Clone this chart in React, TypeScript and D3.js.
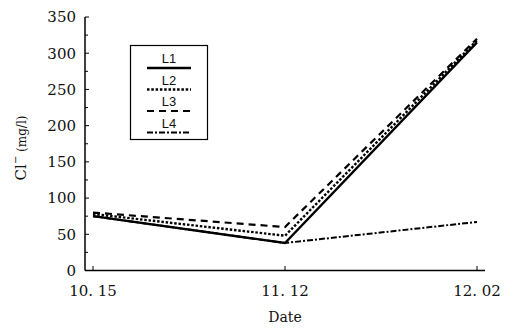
import React from "react";
import * as d3 from "d3";

const dates = ["10. 15", "11. 12", "12. 02"];
const L1 = [75, 38, 315];
const L2 = [78, 48, 318];
const L3 = [80, 60, 320];
const L4 = [75, 38, 67];
const yTicks = [0, 50, 100, 150, 200, 250, 300, 350];
const seriesNames = ["L1", "L2", "L3", "L4"];

const dashes: Record<string, string | undefined> = {
  L1: undefined,
  L2: "2.5,1.8",
  L3: "7,5",
  L4: "6,2,2,2",
};
const widths: Record<string, number> = { L1: 2.4, L2: 2.4, L3: 2.2, L4: 2 };

export default function App() {
  const W = 515, H = 329;
  const x = d3.scalePoint<string>().domain(dates).range([93, 477]);
  const y = d3.scaleLinear().domain([0, 350]).range([270.5, 17]);
  const line = d3
    .line<number>()
    .x((_, i) => x(dates[i]) as number)
    .y((d) => y(d));
  const all: Record<string, number[]> = { L1, L2, L3, L4 };
  const serif = "'DejaVu Serif', serif";
  const minor = d3.range(25, 350, 50);
  return (
    <svg width={W} height={H} style={{ position: "absolute", left: 0, top: 0, background: "#fff" }}>
      <rect width={W} height={H} fill="#fff" />
      {/* axes */}
      <line x1={85} y1={y(350)} x2={85} y2={270.5} stroke="#000" strokeWidth={1.5} />
      <line x1={85} y1={270.5} x2={485} y2={270.5} stroke="#000" strokeWidth={1.5} />
      {yTicks.map((t) => (
        <g key={t}>
          <line x1={85} x2={89} y1={y(t)} y2={y(t)} stroke="#000" strokeWidth={1} />
          <text x={76} y={y(t)} dy="0.36em" textAnchor="end" fontFamily={serif} fontSize={15} fill="#111">
            {t}
          </text>
        </g>
      ))}
      {minor.map((t) => (
        <line key={t} x1={85} x2={88} y1={y(t)} y2={y(t)} stroke="#000" strokeWidth={1} />
      ))}
      {dates.map((d) => (
        <g key={d}>
          <line x1={x(d)} x2={x(d)} y1={270.5} y2={266} stroke="#000" strokeWidth={1} />
          <text x={x(d)} y={296} textAnchor="middle" fontFamily={serif} fontSize={15} fill="#111">
            {d}
          </text>
        </g>
      ))}
      <text x={285} y={322} textAnchor="middle" fontFamily={serif} fontSize={14} fill="#111">
        Date
      </text>
      <text
        transform="translate(26,148) rotate(-90)"
        textAnchor="middle"
        fontFamily={serif}
        fontSize={15}
        fill="#111"
      >
        Cl<tspan fontSize={10} dy={-7}>−</tspan>
        <tspan dy={7} fontSize={12}>{"  (mg/l)"}</tspan>
      </text>
      {/* series */}
      {seriesNames.map((n) => (
        <path
          key={n}
          d={line(all[n]) as string}
          fill="none"
          stroke="#000"
          strokeWidth={widths[n]}
          strokeDasharray={dashes[n]}
        />
      ))}
      {/* legend */}
      <rect x={130.5} y={45.5} width={77} height={94} fill="#fff" stroke="#000" strokeWidth={1.2} />
      {seriesNames.map((n, i) => (
        <g key={n}>
          <text x={169} y={63 + i * 21.5} textAnchor="middle" fontFamily="'Liberation Sans', Arial, sans-serif" fontSize={13} fill="#111">
            {n}
          </text>
          <line
            x1={147}
            x2={191}
            y1={68 + i * 21.5}
            y2={68 + i * 21.5}
            stroke="#000"
            strokeWidth={widths[n]}
            strokeDasharray={dashes[n]}
          />
        </g>
      ))}
    </svg>
  );
}
